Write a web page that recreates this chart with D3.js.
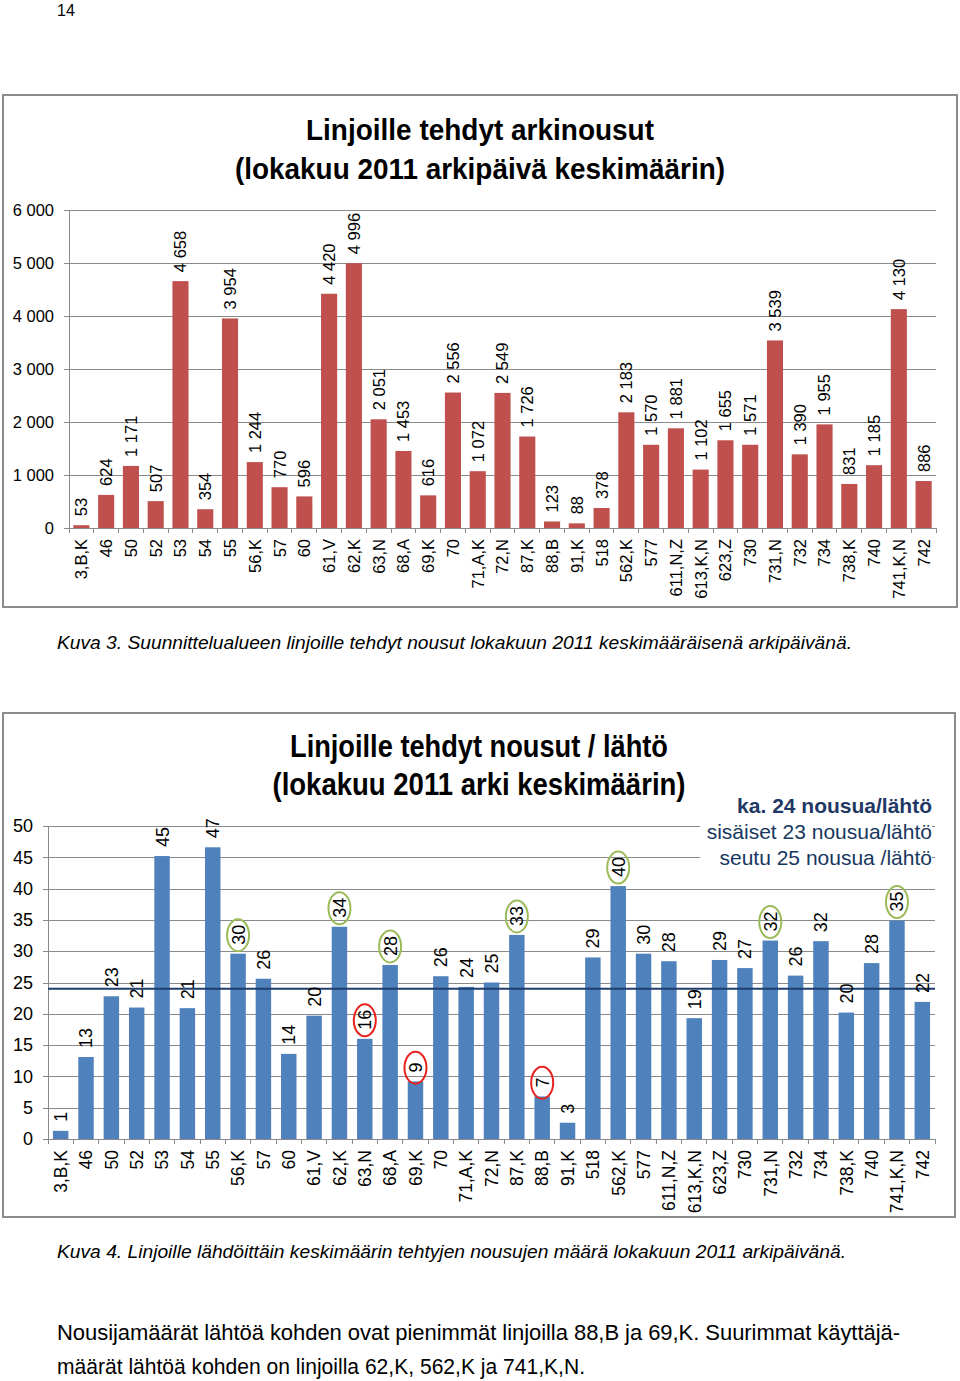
<!DOCTYPE html>
<html>
<head>
<meta charset="utf-8">
<script src="https://cdn.jsdelivr.net/npm/d3@7"></script>
<style>
  html, body { margin: 0; padding: 0; background: #fff; }
  svg { display: block; }
</style>
</head>
<body>
<svg id="page" width="960" height="1381"></svg>
<script>
// ---------------- DATA ----------------
const categories = ["3,B,K","46","50","52","53","54","55","56,K","57","60","61,V","62,K","63,N","68,A","69,K","70","71,A,K","72,N","87,K","88,B","91,K","518","562,K","577","611,N,Z","613,K,N","623,Z","730","731,N","732","734","738,K","740","741,K,N","742"];

// Kuva 3: boardings per weekday
const boardings = [53,624,1171,507,4658,354,3954,1244,770,596,4420,4996,2051,1453,616,2556,1072,2549,1726,123,88,378,2183,1570,1881,1102,1655,1571,3539,1390,1955,831,1185,4130,886];

// Kuva 4: boardings per departure (bar heights as read, labels rounded)
const perDeparture = [1.3,13.1,22.8,21.0,45.2,20.9,46.6,29.6,25.6,13.6,19.7,33.9,16.0,27.8,9.2,26.0,24.3,25.0,32.6,6.8,2.6,29.0,40.4,29.6,28.4,19.3,28.6,27.3,31.7,26.1,31.6,20.2,28.1,34.9,21.9];

const ticks1 = [0,1000,2000,3000,4000,5000,6000];
const ticks2 = [0,5,10,15,20,25,30,35,40,45,50];
const meanValue = 24;
const greenCircled = ["56,K","62,K","68,A","87,K","562,K","731,N","741,K,N"];
const redCircled = ["63,N","69,K","88,B"];

const title1 = ["Linjoille tehdyt arkinousut","(lokakuu 2011 arkipäivä keskimäärin)"];
const title2 = ["Linjoille tehdyt nousut / lähtö","(lokakuu 2011 arki keskimäärin)"];
const legendLines = ["ka. 24 nousua/lähtö","sisäiset 23 nousua/lähtö","seutu 25 nousua /lähtö"];

const pageNumber = "14";
const caption3 = "Kuva 3. Suunnittelualueen linjoille tehdyt nousut lokakuun 2011 keskimääräisenä arkipäivänä.";
const caption4 = "Kuva 4. Linjoille lähdöittäin keskimäärin tehtyjen nousujen määrä lokakuun 2011 arkipäivänä.";
const paragraph = ["Nousijamäärät lähtöä kohden ovat pienimmät linjoilla 88,B ja 69,K. Suurimmat käyttäjä-","määrät lähtöä kohden on linjoilla 62,K, 562,K ja 741,K,N."];

// ---------------- STYLE ----------------
const NARROW = "'Liberation Sans Narrow','Arial Narrow','Liberation Sans',Arial,sans-serif";
const SANS = "'Liberation Sans',Arial,sans-serif";
const GRID = "#8a8a8a";
const RED = "#C0504D";
const BLUE = "#4F81BD";
const NAVY = "#1F3864";

const svg = d3.select("#page");
const fmt = d3.formatLocale({decimal: ",", thousands: "\u00a0", grouping: [3], currency: ["", ""]}).format(",d");

// page texts
svg.append("text").attr("x", 57).attr("y", 16).attr("font-family", SANS).attr("font-size", 16).text(pageNumber);
svg.append("text").attr("x", 57).attr("y", 649).attr("font-family", NARROW).attr("font-style", "italic").attr("font-size", 19)
  .attr("textLength", 795).attr("lengthAdjust", "spacingAndGlyphs").text(caption3);
svg.append("text").attr("x", 57).attr("y", 1258).attr("font-family", NARROW).attr("font-style", "italic").attr("font-size", 19)
  .attr("textLength", 789).attr("lengthAdjust", "spacingAndGlyphs").text(caption4);
svg.append("text").attr("x", 57).attr("y", 1340).attr("font-family", NARROW).attr("font-size", 22)
  .attr("textLength", 843).attr("lengthAdjust", "spacing").text(paragraph[0]);
svg.append("text").attr("x", 57).attr("y", 1374).attr("font-family", NARROW).attr("font-size", 22)
  .attr("textLength", 528).attr("lengthAdjust", "spacingAndGlyphs").text(paragraph[1]);

function drawChart(cfg) {
  const g = svg.append("g");
  // frame
  g.append("rect").attr("x", cfg.box[0]).attr("y", cfg.box[1]).attr("width", cfg.box[2]).attr("height", cfg.box[3])
    .attr("fill", "#fff").attr("stroke", "#8c8c8c").attr("stroke-width", 2);

  const x = d3.scaleBand().domain(categories).range([cfg.left, cfg.right])
    .paddingInner(cfg.pad).paddingOuter(cfg.pad / 2);
  const y = d3.scaleLinear().domain(cfg.domain).range([cfg.bottom, cfg.top]);

  // gridlines + y tick labels
  const yAxis = d3.axisLeft(y).tickValues(cfg.ticks).tickSize(cfg.right - cfg.left + 5)
    .tickPadding(cfg.tickPad).tickFormat(cfg.tickFmt);
  const ya = g.append("g").attr("transform", `translate(${cfg.right},0)`).call(yAxis);
  ya.select(".domain").remove();
  ya.selectAll(".tick line").attr("stroke", GRID).attr("stroke-width", 1).attr("shape-rendering", "crispEdges");
  ya.selectAll(".tick text").attr("font-family", NARROW).attr("font-size", cfg.tickSize).attr("fill", "#000");

  // legend (chart 2)
  if (cfg.legend) cfg.legend(g);

  // title
  cfg.title.forEach((t, i) => {
    g.append("text").attr("x", cfg.titleX - cfg.titleW[i] / 2).attr("y", cfg.titleY[i])
      .attr("font-family", NARROW).attr("font-weight", "bold").attr("font-size", cfg.titleSize)
      .attr("textLength", cfg.titleW[i]).attr("lengthAdjust", "spacingAndGlyphs")
      .attr("fill", "#000").text(t);
  });

  // axes lines
  g.append("line").attr("x1", cfg.left).attr("x2", cfg.left).attr("y1", cfg.top).attr("y2", cfg.bottom)
    .attr("stroke", GRID).attr("shape-rendering", "crispEdges");
  // x category tick marks at band boundaries
  const bounds = categories.map(c => x(c) - x.step() * x.paddingInner() / 2).concat([cfg.right]);
  g.append("g").selectAll("line").data(bounds).join("line")
    .attr("x1", d => d).attr("x2", d => d).attr("y1", cfg.bottom).attr("y2", cfg.bottom + 5)
    .attr("stroke", GRID).attr("shape-rendering", "crispEdges");

  // bars
  g.append("g").selectAll("rect").data(cfg.values).join("rect")
    .attr("x", (d, i) => x(categories[i])).attr("width", x.bandwidth())
    .attr("y", d => y(d)).attr("height", d => cfg.bottom - y(d))
    .attr("fill", cfg.color);

  if (cfg.after) cfg.after(g, x, y);

  // x labels
  const xAxis = d3.axisBottom(x).tickSize(0).tickPadding(0);
  const xa = g.append("g").attr("transform", `translate(0,${cfg.bottom})`).call(xAxis);
  xa.select(".domain").attr("stroke", GRID).attr("shape-rendering", "crispEdges");
  xa.selectAll(".tick text").attr("font-family", NARROW).attr("font-size", cfg.xLabelSize).attr("fill", "#000")
    .attr("text-anchor", "end").attr("transform", "rotate(-90)")
    .attr("x", -cfg.xLabelOff).attr("y", 0).attr("dy", "0.36em");

  // value labels
  const lbl = g.append("g").selectAll("g").data(cfg.values).join("g")
    .attr("transform", (d, i) => `translate(${x(categories[i]) + x.bandwidth() / 2},${y(d) - cfg.valGap}) rotate(-90)`);
  lbl.append("text").attr("font-family", NARROW).attr("font-size", cfg.valSize).attr("fill", "#000")
    .attr("dy", "0.36em").text(d => cfg.valFmt(d));

  if (cfg.circles) cfg.circles(g, x, y);
}

// ---------------- KUVA 3 ----------------
drawChart({
  box: [3, 95, 954, 512], title: title1, titleX: 480, titleW: [348, 490], titleY: [140, 179], titleSize: 30,
  left: 69, right: 936, top: 210, bottom: 528, domain: [0, 6000], ticks: ticks1,
  tickFmt: d => fmt(d), tickPad: 10, tickSize: 16.5, pad: 0.35,
  values: boardings, color: RED, valGap: 9, valSize: 16.5, valFmt: d => fmt(d),
  xLabelSize: 16.5, xLabelOff: 11
});

// ---------------- KUVA 4 ----------------
drawChart({
  box: [3, 713, 952, 504], title: title2, titleX: 479, titleW: [378, 413], titleY: [757, 795], titleSize: 32,
  left: 48, right: 935, top: 826, bottom: 1139, domain: [0, 50], ticks: ticks2,
  tickFmt: d => d, tickPad: 10, tickSize: 18, pad: 0.39,
  values: perDeparture, color: BLUE, valGap: 9, valSize: 18, valFmt: d => Math.round(d),
  xLabelSize: 17.5, xLabelOff: 11,
  legend: g => {
    g.append("rect").attr("x", 700).attr("y", 792).attr("width", 232).attr("height", 77).attr("fill", "#fff");
    const ys = [813, 839, 865];
    legendLines.forEach((t, i) => {
      g.append("text").attr("x", 932).attr("y", ys[i]).attr("text-anchor", "end")
        .attr("font-family", SANS).attr("font-size", 21).attr("font-weight", i === 0 ? "bold" : "normal")
        .attr("fill", i === 0 ? NAVY : "#17375E").text(t);
    });
  },
  after: (g, x, y) => {
    g.append("line").attr("x1", 48).attr("x2", 935).attr("y1", y(meanValue)).attr("y2", y(meanValue))
      .attr("stroke", "#1F3E6E").attr("stroke-width", 2);
  },
  circles: (g, x, y) => {
    const list = greenCircled.map(c => ({c, col: "#9BBB59"})).concat(redCircled.map(c => ({c, col: "#E8201E"})));
    g.append("g").selectAll("ellipse").data(list).join("ellipse")
      .attr("cx", d => x(d.c) + x.bandwidth() / 2)
      .attr("cy", d => {
        const v = perDeparture[categories.indexOf(d.c)];
        const n = String(Math.round(v)).length;
        return y(v) - 9 - (n * 9.5) / 2;
      })
      .attr("rx", 11).attr("ry", 16).attr("fill", "none").attr("stroke", d => d.col).attr("stroke-width", 2);
  }
});
</script>
</body>
</html>
